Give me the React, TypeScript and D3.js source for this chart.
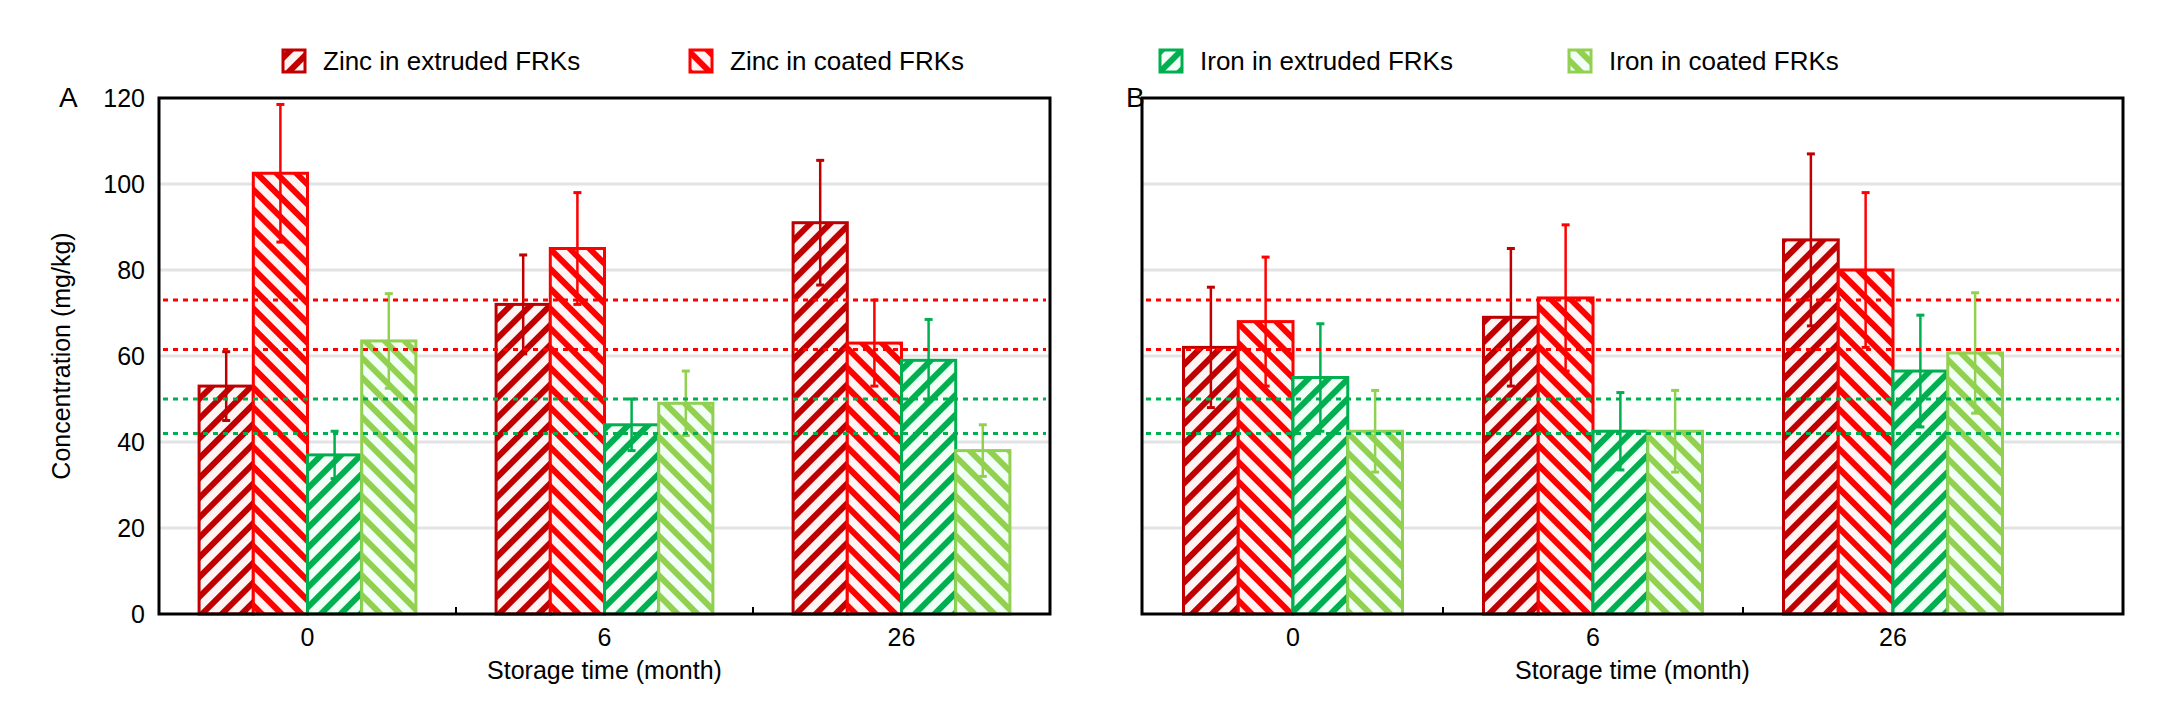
import React from 'react';
import * as d3 from 'd3';

const months = ['0', '6', '26'];
const seriesNames = ['Zinc in extruded FRKs', 'Zinc in coated FRKs', 'Iron in extruded FRKs', 'Iron in coated FRKs'];
const yTicks = [0, 20, 40, 60, 80, 100, 120];

// panel A
const aZincExt = [53, 72, 91];
const aZincCoat = [102.5, 85, 63];
const aIronExt = [37, 44, 59];
const aIronCoat = [63.5, 49, 38];
const aZincExtErr = [8, 11.5, 14.5];
const aZincCoatErr = [16, 13, 10];
const aIronExtErr = [5.5, 6, 9.5];
const aIronCoatErr = [11, 7.5, 6];
const aRefLines = [73, 61.5, 50, 42];

// panel B
const bZincExt = [62, 69, 87];
const bZincCoat = [68, 73.5, 80];
const bIronExt = [55, 42.5, 56.5];
const bIronCoat = [42.5, 42.5, 60.7];
const bZincExtErr = [14, 16, 20];
const bZincCoatErr = [15, 17, 18];
const bIronExtErr = [12.5, 9, 13];
const bIronCoatErr = [9.5, 9.5, 14];
const bRefLines = [73, 61.5, 50, 42];

const colors = ['#c00000', '#ff0000', '#00b050', '#92d050'];
const refColors = ['#ff0000', '#ff0000', '#00b050', '#00b050'];
const dirs = [1, -1, 1, -1];
const font = 'Liberation Sans, Arial, sans-serif';

const y = d3.scaleLinear().domain([0, 120]).range([614, 98]);

interface PanelProps {
  left: number;
  right: number;
  bandStart: number;
  bandEnd: number;
  values: number[][];
  errs: number[][];
  refs: number[];
  label: string;
  showY: boolean;
}

const Panel: React.FC<PanelProps> = ({ left, right, bandStart, bandEnd, values, errs, refs, label, showY }) => {
  const x = d3.scaleBand<string>().domain(months).range([bandStart, bandEnd]).padding(0);
  const bw = x.bandwidth();
  const inner = d3.scaleBand<number>().domain([0, 1, 2, 3]).range([bw * 0.135, bw * 0.865]);
  return (
    <g>
      {yTicks.slice(1, -1).map((t) => (
        <line key={t} x1={left} x2={right} y1={y(t)} y2={y(t)} stroke="#e3e3e3" strokeWidth={3} />
      ))}
      {months.map((m, gi) =>
        values.map((vals, si) => {
          const x0 = x(m)! + inner(si)!;
          const w = inner.bandwidth();
          const cx = x0 + w / 2;
          const v = vals[gi];
          const e = errs[si][gi];
          return (
            <g key={m + si}>
              <rect x={x0} y={y(v)} width={w} height={y(0) - y(v)} fill={`url(#pat${si})`} stroke={colors[si]} strokeWidth={3} />
              <line x1={cx} x2={cx} y1={y(v - e)} y2={y(v + e)} stroke={colors[si]} strokeWidth={2.5} />
              <line x1={cx - 4} x2={cx + 4} y1={y(v + e)} y2={y(v + e)} stroke={colors[si]} strokeWidth={3} />
              <line x1={cx - 4} x2={cx + 4} y1={y(v - e)} y2={y(v - e)} stroke={colors[si]} strokeWidth={3} />
            </g>
          );
        })
      )}
      {refs.map((r, i) => (
        <line key={i} x1={left + 4} x2={right - 4} y1={y(r)} y2={y(r)} stroke={refColors[i]} strokeWidth={3} strokeDasharray="5 5" />
      ))}
      <rect x={left} y={y(120)} width={right - left} height={y(0) - y(120)} fill="none" stroke="#000" strokeWidth={3} />
      {months.slice(1).map((m) => (
        <line key={m} x1={x(m)!} x2={x(m)!} y1={y(0)} y2={y(0) - 7} stroke="#000" strokeWidth={2} />
      ))}
      {months.map((m) => (
        <text key={m} x={x(m)! + bw / 2} y={y(0) + 32} textAnchor="middle" fontSize={25} fontFamily={font}>{m}</text>
      ))}
      {showY &&
        yTicks.map((t) => (
          <text key={t} x={left - 14} y={y(t) + 9} textAnchor="end" fontSize={25} fontFamily={font}>{t}</text>
        ))}
      <text x={(left + right) / 2} y={y(0) + 65} textAnchor="middle" fontSize={25} fontFamily={font}>Storage time (month)</text>
      <text x={left - (showY ? 100 : 16)} y={y(120) + 9} textAnchor="start" fontSize={28} fontFamily={font}>{label}</text>
    </g>
  );
};

export default function App() {
  const legendX = [283, 690, 1160, 1569];
  return (
    <svg width={2159} height={709} style={{ display: 'block', margin: '-8px' }}>
      <defs>
        {colors.map((c, i) => (
          <pattern key={i} id={`pat${i}`} width={14} height={14} patternUnits="userSpaceOnUse" patternTransform={`rotate(${dirs[i] * 45})`}>
            <rect width={14} height={14} fill={i < 2 ? '#fff4f4' : '#f2fff6'} />
            <rect width={6} height={14} fill={c} />
          </pattern>
        ))}
      </defs>
      <rect width={2159} height={709} fill="#fff" />
      {seriesNames.map((s, i) => (
        <g key={s}>
          <rect x={legendX[i]} y={50} width={22} height={22} fill={`url(#pat${i})`} stroke={colors[i]} strokeWidth={3} />
          <text x={legendX[i] + 40} y={70} fontSize={26} fontFamily={font}>{s}</text>
        </g>
      ))}
      <text transform={`translate(70,${y(60)}) rotate(-90)`} textAnchor="middle" fontSize={25} fontFamily={font}>Concentration (mg/kg)</text>
      <Panel left={159} right={1050} bandStart={159} bandEnd={1050}
        values={[aZincExt, aZincCoat, aIronExt, aIronCoat]}
        errs={[aZincExtErr, aZincCoatErr, aIronExtErr, aIronCoatErr]}
        refs={aRefLines} label="A" showY />
      <Panel left={1142} right={2123} bandStart={1143} bandEnd={2043}
        values={[bZincExt, bZincCoat, bIronExt, bIronCoat]}
        errs={[bZincExtErr, bZincCoatErr, bIronExtErr, bIronCoatErr]}
        refs={bRefLines} label="B" showY={false} />
    </svg>
  );
}
